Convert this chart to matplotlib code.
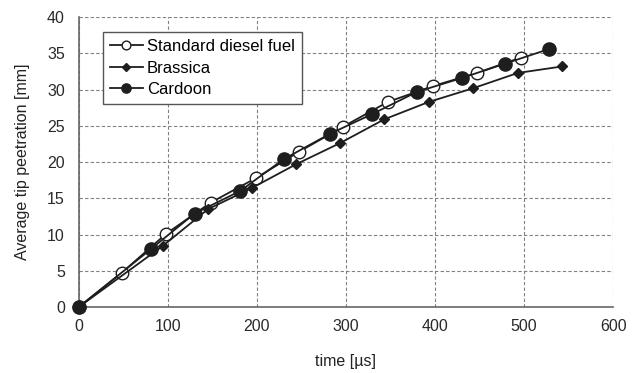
import matplotlib
matplotlib.use('Agg')
import matplotlib.pyplot as plt

# data
t_diesel = [0, 48, 98, 148, 199, 247, 297, 347, 398, 447, 496]
p_diesel = [0, 4.7, 10.1, 14.4, 17.8, 21.4, 24.9, 28.3, 30.5, 32.3, 34.4]

t_brassica = [0, 94, 145, 194, 244, 293, 343, 393, 443, 493, 543]
p_brassica = [0, 8.4, 13.5, 16.4, 19.7, 22.6, 25.9, 28.3, 30.2, 32.3, 33.2]

t_cardoon = [0, 81, 130, 181, 230, 282, 329, 380, 430, 479, 528]
p_cardoon = [0, 8.0, 12.9, 16.0, 20.4, 23.9, 26.6, 29.7, 31.6, 33.6, 35.6]

plt.rcParams['font.family'] = ['Liberation Sans', 'DejaVu Sans']
plt.rcParams['font.size'] = 11.5

fig = plt.figure(figsize=(6.36, 3.73), dpi=100)
ax = fig.add_axes([0.124, 0.177, 0.840, 0.777])

line_col = '#1e1e1e'
ax.plot(t_diesel, p_diesel, color=line_col, lw=1.3, marker='o', ms=9,
        mfc='white', mec=line_col, mew=1.0, label='Standard diesel fuel',
        zorder=3, clip_on=False)
ax.plot(t_brassica, p_brassica, color=line_col, lw=1.3, marker='D', ms=5.5,
        mfc=line_col, mec=line_col, label='Brassica', zorder=4, clip_on=False)
ax.plot(t_cardoon, p_cardoon, color=line_col, lw=1.3, marker='o', ms=9.5,
        mfc=line_col, mec=line_col, label='Cardoon', zorder=5, clip_on=False)

ax.set_xlim(0, 600)
ax.set_ylim(0, 40)
ax.set_xticks(range(0, 601, 100))
ax.set_yticks(range(0, 41, 5))
ax.grid(True, color='#808080', ls=(0, (3, 2)), lw=0.8)
ax.set_axisbelow(True)
ax.spines['top'].set_visible(False)
ax.spines['right'].set_visible(False)
for s in ['left', 'bottom']:
    ax.spines[s].set_color('#666666')
    ax.spines[s].set_linewidth(1.2)
ax.tick_params(labelcolor='#2a2a2a', length=0)
ax.tick_params(axis='y', pad=10)
ax.tick_params(axis='x', pad=9)

ax.set_xlabel('time [µs]', color='#222222', labelpad=14)
ax.set_ylabel('Average tip peetration [mm]', color='#222222', labelpad=12)

leg = ax.legend(loc='upper left', bbox_to_anchor=(0.045, 0.948), fancybox=False,
                framealpha=1, edgecolor='#555555', handlelength=2.0,
                borderpad=0.4, labelspacing=0.4, handletextpad=0.25,
                markerscale=0.7, borderaxespad=0, fontsize=12)
leg.get_frame().set_linewidth(1.0)

fig.savefig('out.png', dpi=100)
